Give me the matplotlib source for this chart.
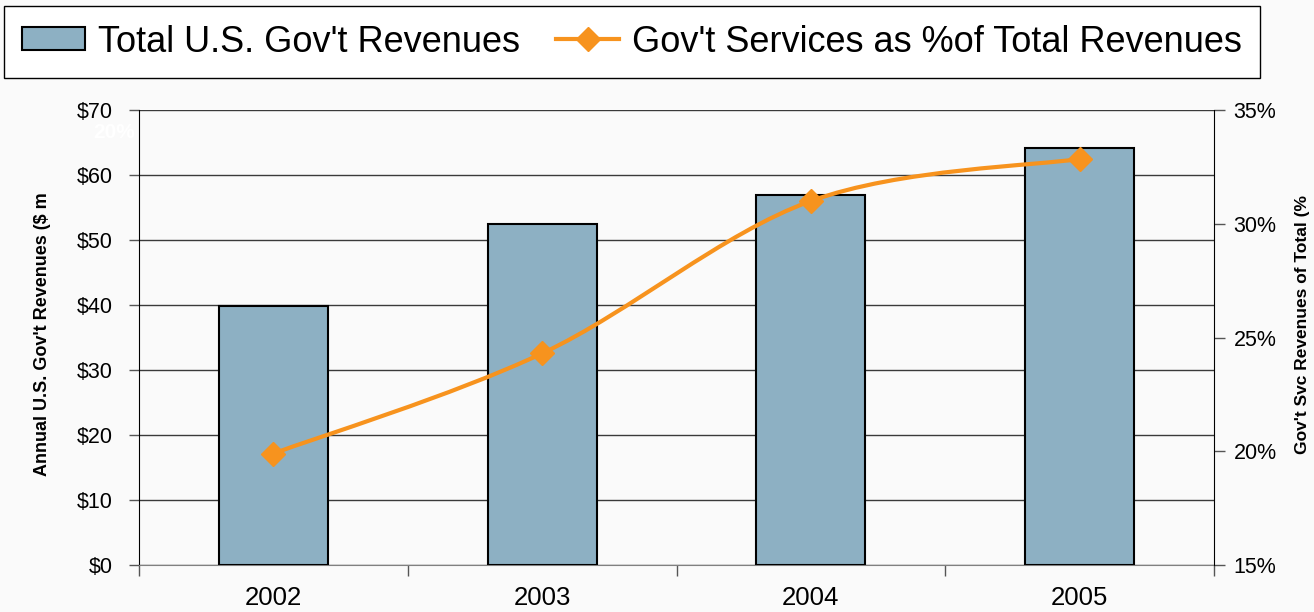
import numpy as np
import matplotlib
matplotlib.use('Agg')
import matplotlib.pyplot as plt
from matplotlib.path import Path
from matplotlib.patches import PathPatch
from matplotlib.lines import Line2D
from matplotlib.patches import Patch

anos = ['2002', '2003', '2004', '2005']
receitas = [39.9, 52.4, 57.0, 64.1]        # $ m
pct_servicos = [19.9, 24.3, 31.0, 32.85]   # %

cor_barra = '#8DB0C3'
cor_linha = '#F7931E'
fundo = '#fafafa'

plt.rcParams['font.family'] = ['Liberation Sans', 'DejaVu Sans']

fig = plt.figure(figsize=(13.14, 6.12), dpi=100, facecolor=fundo)
ax = fig.add_axes([139 / 1314, 1 - 565 / 612, 1075 / 1314, 455 / 612])
ax.set_facecolor(fundo)

x = np.arange(len(anos))
ax.bar(x, receitas, width=0.405, color=cor_barra, edgecolor='black', linewidth=1.5, zorder=3)

ax.set_xlim(-0.5, len(anos) - 0.5)
ax.set_ylim(0, 70)
ax.set_yticks(range(0, 71, 10))
ax.set_yticklabels([f'${v}' for v in range(0, 71, 10)], fontsize=15.5)
ax.yaxis.grid(True, color='#3a3a3a', linewidth=1)
ax.set_axisbelow(True)
ax.tick_params(axis='y', length=7, width=1, pad=12, color='#555555')

ax.set_xticks(x)
ax.set_xticklabels(anos, fontsize=18.5)
ax.set_xticks(np.arange(-0.5, len(anos), 1.0), minor=True)
ax.tick_params(axis='x', which='major', length=0, pad=15)
ax.tick_params(axis='x', which='minor', length=8, width=1, color='#555555')

ax.spines['top'].set_visible(False)
ax.spines['right'].set_visible(False)
ax.spines['bottom'].set_color('#808080')
ax.spines['left'].set_color('black')

# eixo da direita (percentual)
ax2 = ax.twinx()
ax2.set_ylim(15, 35)
ax2.set_yticks(range(15, 36, 5))
ax2.set_yticklabels([f'{v}%' for v in range(15, 36, 5)], fontsize=15.5)
ax2.tick_params(axis='y', length=8, width=1, pad=6, color='#555555')
ax2.spines['top'].set_visible(False)
ax2.spines['left'].set_visible(False)
ax2.spines['bottom'].set_visible(False)
ax2.spines['right'].set_color('black')

# linha suavizada (estilo Excel) com curvas de Bezier
pts = np.column_stack([x, pct_servicos]).astype(float)
ext = np.vstack([pts[0], pts, pts[-1]])
verts = [pts[0]]
codes = [Path.MOVETO]
for i in range(len(pts) - 1):
    p0, p1, p2, p3 = ext[i], ext[i + 1], ext[i + 2], ext[i + 3]
    verts += [p1 + (p2 - p0) / 6, p2 - (p3 - p1) / 6, p2]
    codes += [Path.CURVE4] * 3
ax2.add_patch(PathPatch(Path(verts, codes), facecolor='none', edgecolor=cor_linha,
                        linewidth=3, zorder=4))
ax2.plot(x, pct_servicos, linestyle='none', marker='D', markersize=12,
         color=cor_linha, zorder=5)

# rotulos dos eixos
fig.text(43 / 1314, 1 - 334 / 612, "Annual U.S. Gov't Revenues ($ m", rotation=90,
         ha='center', va='center', fontsize=13, fontweight='bold')
fig.text(1302 / 1314, 1 - 325 / 612, "Gov't Svc Revenues of Total (%", rotation=90,
         ha='center', va='center', fontsize=12.5, fontweight='bold')
fig.text(114 / 1314, 1 - 132 / 612, '20%', color='white', fontsize=15,
         fontweight='bold', ha='center', va='center')

# legenda
handles = [Patch(facecolor=cor_barra, edgecolor='black', linewidth=1.5),
           Line2D([], [], color=cor_linha, linewidth=3, marker='D', markersize=12)]
rotulos = ["Total U.S. Gov't Revenues", "Gov't Services as %of Total Revenues"]
leg = fig.legend(handles, rotulos, loc='center', bbox_to_anchor=(632 / 1314, 1 - 42 / 612),
                 ncol=2, fontsize=26, frameon=True, fancybox=False, framealpha=1,
                 edgecolor='black', facecolor='white', handlelength=1.75,
                 handleheight=0.6, handletextpad=0.35, columnspacing=1.0,
                 borderpad=0.5, borderaxespad=0)
leg.get_frame().set_linewidth(1)

fig.savefig('out.png', dpi=100, facecolor=fundo)
